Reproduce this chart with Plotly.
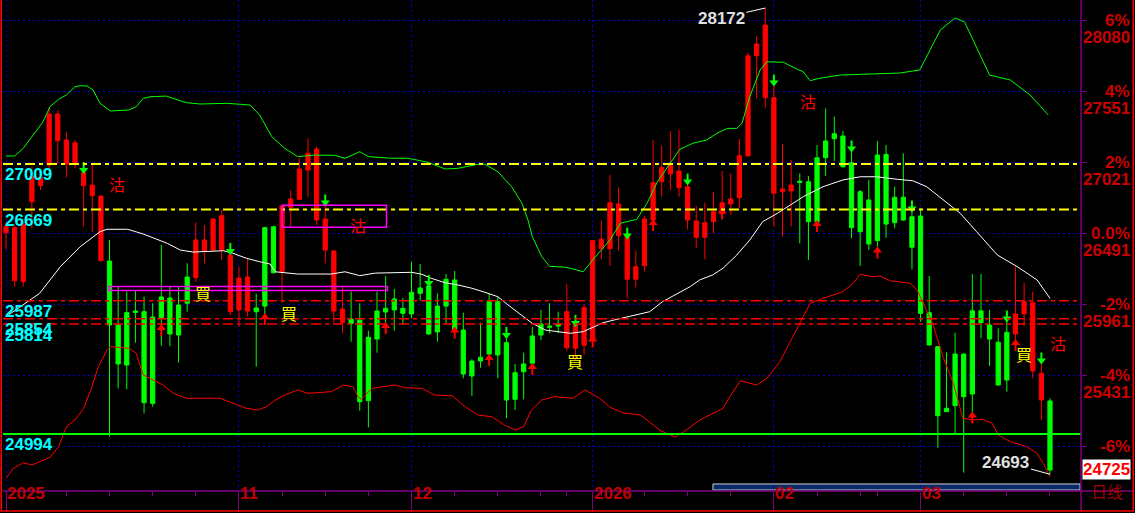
import plotly.graph_objects as go

# ---------------- data ----------------
idx = list(range(122))
open_ = [26495, 26137, 26130, 26727, 26848, 27001, 27182, 27008, 27008, 26846,
         26772, 26287, 26284, 25807, 25899, 25911, 25906, 25866, 26016, 26008,
         25956, 26165, 26160, 26359, 26366, 26366, 25906, 25919, 25911, 25934,
         26533, 26540, 26204, 26685, 26745, 26963, 26590, 26366, 25911, 25824,
         25851, 25844, 25715, 25911, 25931, 26001, 25931, 26051, 26083, 26098,
         25948, 26148, 26143, 25769, 25538, 25566, 25981, 25981, 25675, 25451,
         25516, 25725, 25814, 25799, 25812, 25637, 25633, 25655, 25700, 26376,
         26376, 26473, 26148, 26148, 26249, 26590, 26876, 26934, 26831, 26590,
         26461, 26461, 26578, 26640, 26710, 26757, 27070, 27816, 27503, 26790,
         26801, 26807, 26880, 26876, 27055, 27180, 27234, 27217, 27018, 26801,
         26740, 27075, 27080, 26760, 26760, 26615, 26620, 25899, 25645, 25185,
         25590, 25590, 25913, 25913, 25807, 25678, 25752, 25740, 25889, 25464,
         25247, 25240]
high = [26575, 26553, 26570, 26986, 26963, 27433, 27411, 27249, 27187, 26963,
        27001, 26775, 26441, 26093, 26056, 26068, 26019, 25969, 26404, 26093,
        26093, 26267, 26570, 26553, 26605, 26665, 26404, 26242, 26304, 26041,
        26540, 26548, 26700, 26814, 27051, 27200, 27137, 26702, 26365, 26093,
        26056, 25969, 25764, 26055, 26172, 26075, 26010, 26279, 26263, 26167,
        26043, 26187, 26210, 25899, 25551, 25824, 26043, 26018, 25769, 25516,
        25600, 25794, 25919, 25969, 25906, 26111, 25830, 25963, 26440, 26585,
        26926, 26834, 26516, 26361, 26620, 27187, 27145, 27254, 27262, 26889,
        26695, 26719, 26801, 26956, 26939, 27195, 27839, 27963, 28172, 27598,
        27157, 27038, 26938, 26918, 27150, 27424, 27361, 27254, 27175, 26814,
        26889, 27180, 27150, 26839, 27088, 26715, 26678, 26172, 25650, 25603,
        25749, 25595, 26187, 26187, 25919, 25782, 25899, 26242, 26122, 26056,
        25533, 25260]
low = [26372, 26093, 26093, 26531, 26814, 26978, 27008, 26909, 26976, 26540,
       26503, 26280, 24973, 25334, 25327, 25675, 25148, 25197, 25652, 25650,
       25525, 25906, 26130, 26267, 26360, 26292, 25881, 25794, 25869, 25496,
       25881, 26190, 25973, 26536, 26740, 26764, 26553, 26267, 25824, 25745,
       25682, 25167, 25043, 25600, 25749, 25764, 25807, 25857, 25988, 25732,
       25682, 25819, 25745, 25409, 25277, 25488, 25540, 25409, 25111, 25172,
       25252, 25515, 25695, 25745, 25745, 25615, 25545, 25583, 25657, 26297,
       26247, 26361, 26006, 26088, 26205, 26516, 26764, 26814, 26764, 26521,
       26379, 26297, 26491, 26603, 26628, 26678, 27060, 27498, 27424, 26540,
       26466, 26540, 26416, 26292, 26516, 26919, 27031, 26981, 26454, 26247,
       26366, 26391, 26458, 26528, 26585, 26222, 25831, 25650, 24891, 25158,
       24999, 24705, 25111, 25708, 25501, 25355, 25309, 25633, 25799, 25409,
       25098, 24693]
close = [26540, 26533, 26558, 26913, 26907, 27381, 27381, 27187, 27167, 26943,
         26851, 26769, 25807, 25516, 25508, 25901, 25227, 25222, 25861, 25740,
         25732, 25969, 26441, 26441, 26598, 26622, 26329, 26157, 26165, 25906,
         25948, 26197, 26695, 26747, 26971, 27088, 27120, 26598, 26359, 25926,
         25819, 25234, 25242, 25702, 25904, 25919, 25894, 25889, 26043, 25740,
         25755, 25948, 25775, 25441, 25426, 25538, 25590, 25583, 25247, 25252,
         25458, 25521, 25732, 25790, 25799, 25906, 25807, 25936, 26436, 26446,
         26719, 26710, 26471, 26242, 26598, 26869, 26981, 27001, 26956, 26839,
         26583, 26570, 26652, 26719, 26747, 27070, 27816, 27904, 28045, 27503,
         26822, 26851, 26872, 26578, 26578, 27055, 27197, 26988, 26533, 26503,
         26411, 26436, 26560, 26570, 26590, 26387, 25894, 25658, 25130, 25160,
         25205, 25272, 25292, 25824, 25702, 25359, 25396, 25889, 25981, 25973,
         25446, 24725]

# middle line (white)
mid_x = [0, 3.9, 6.3, 8.6, 10.9, 11.7, 14.1, 15.9, 18.7, 20.2, 21.7, 24.0, 25.2, 26.3, 27.9,
         29.4, 30.6, 31.2, 33.8, 37.7, 39.3, 41.0, 42.8, 47.0, 48.2, 49.3, 50.9, 52.4, 54.0,
         55.5, 57.0, 58.2, 59.8, 61.0, 62.5, 63.6, 65.4, 66.9, 69.2, 70.8, 73.1, 74.6, 76.1,
         77.8, 79.3, 80.4, 81.9, 83.1, 84.7, 86.2, 87.7, 89.4, 90.9, 92.4, 94.7, 97.0, 99.0,
         100.9, 103.3, 105.1, 106.7, 108.6, 110.6, 112.5, 114.9, 117.2, 119.5, 121.0]
mid_y = [25869, 26043, 26242, 26391, 26503, 26521, 26521, 26486, 26416, 26366, 26351, 26361,
         26361, 26342, 26304, 26279, 26262, 26204, 26187, 26187, 26204, 26175, 26194, 26200,
         26185, 26155, 26122, 26105, 26081, 26051, 26018, 25956, 25881, 25819, 25769, 25762,
         25745, 25757, 25824, 25849, 25881, 25906, 25981, 26038, 26093, 26143, 26180, 26230,
         26329, 26441, 26578, 26640, 26702, 26764, 26839, 26889, 26913, 26913, 26894, 26883,
         26839, 26740, 26640, 26503, 26329, 26242, 26143, 26006]

# upper band (green)
up_x = [0, 1.0, 2.0, 3.2, 4.3, 5.1, 6.1, 7.0, 8.0, 8.6, 9.4, 10.1, 10.9, 12.1, 14.2, 15.1,
        15.9, 16.7, 18.6, 20.2, 20.9, 22.5, 25.6, 27.1, 28.3, 29.4, 30.8, 32.3, 33.8, 35.8,
        38.1, 39.3, 41.0, 42.0, 44.7, 46.6, 48.9, 50.9, 52.4, 54.7, 55.5, 57.0, 58.6, 59.8,
        60.5, 61.0, 62.1, 63.0, 65.0, 66.9, 68.0, 70.0, 71.2, 73.1, 74.3, 75.5, 77.0, 78.1,
        79.6, 81.2, 82.4, 83.6, 84.7, 85.3, 86.2, 87.4, 88.2, 90.1, 91.7, 92.4, 93.2, 94.3,
        96.7, 103.6, 105.9, 108.3, 110.0, 111.1, 114.0, 116.4, 118.7, 120.8]
up_y = [27068, 27068, 27125, 27225, 27324, 27436, 27491, 27523, 27585, 27592, 27590, 27560,
        27461, 27404, 27411, 27436, 27498, 27510, 27515, 27480, 27466, 27456, 27461, 27454,
        27448, 27374, 27212, 27125, 27063, 27075, 27073, 27051, 27100, 27063, 27051, 27051,
        27021, 26971, 26976, 27006, 27006, 26951, 26839, 26715, 26590, 26466, 26316, 26245,
        26237, 26204, 26292, 26441, 26566, 26595, 26715, 26876, 27013, 27118, 27163, 27187,
        27237, 27274, 27274, 27312, 27510, 27709, 27771, 27767, 27715, 27697, 27630, 27648,
        27672, 27687, 27710, 28009, 28098, 28068, 27672, 27635, 27523, 27374]

# lower band (red)
lo_x = [0, 0.85, 2.0, 3.0, 3.9, 5.1, 6.1, 7.0, 8.0, 9.0, 9.9, 10.7, 11.7, 12.1, 14.2, 15.1,
        15.9, 17.1, 18.2, 19.4, 20.9, 24.8, 26.3, 27.9, 29.1, 30.2, 31.2, 32.3, 33.8, 35.0,
        37.7, 39.1, 40.2, 40.8, 41.2, 42.4, 45.1, 46.2, 48.2, 49.7, 51.7, 53.2, 54.7, 56.3,
        57.8, 59.0, 60.0, 60.9, 62.1, 63.6, 65.7, 67.1, 68.8, 70.0, 71.5, 73.5, 74.3, 75.8,
        77.6, 79.0, 80.4, 83.1, 83.9, 85.1, 87.0, 88.2, 89.7, 91.2, 92.4, 93.2, 94.7, 97.0,
        98.2, 99.0, 100.5, 101.3, 102.5, 103.6, 104.8, 105.6, 106.3, 107.4, 108.6, 109.8,
        110.9, 112.1, 113.2, 114.3, 115.0, 116.4, 118.3, 119.5, 120.2, 121.0]
lo_y = [24663, 24737, 24779, 24762, 24787, 24820, 24899, 25048, 25098, 25185, 25334, 25496,
        25620, 25645, 25633, 25596, 25434, 25396, 25359, 25297, 25260, 25260, 25222, 25185,
        25172, 25197, 25247, 25284, 25322, 25297, 25309, 25359, 25346, 25272, 25252, 25334,
        25359, 25339, 25334, 25284, 25279, 25197, 25135, 25122, 25060, 25023, 25048, 25172,
        25247, 25272, 25260, 25322, 25260, 25193, 25152, 25135, 25098, 25020, 24970, 25030,
        25098, 25185, 25272, 25391, 25359, 25409, 25533, 25719, 25869, 25969, 26006, 26055,
        26118, 26185, 26167, 26172, 26137, 26130, 26118, 26068, 25969, 25819, 25570, 25372,
        25111, 25098, 25103, 25073, 24986, 24936, 24899, 24849, 24775, 24675]

# key price levels
yellow_levels = [27009, 26669]
red_levels = [25987, 25854, 25814]
green_levels = [24994]

# signals
sell_idx = [9, 26, 37, 49, 58, 66, 72, 79, 89, 98, 105, 116, 120]
sell_px = [26978, 26374, 26736, 26135, 25747, 25837, 26489, 26892, 27631, 27139, 26691, 25870, 25557]
buy_idx = [18, 30, 44, 52, 56, 61, 68, 75, 83, 94, 101, 112, 117]
buy_px = [25769, 25851, 25784, 25751, 25546, 25479, 25684, 26553, 26639, 26545, 26348, 25117, 25658]

gu_idx = [12.9, 40.8, 93.0, 121.9]
gu_px = [26859, 26553, 27478, 25673]
mai_idx = [22.8, 32.8, 65.9, 118.0]
mai_px = [26046, 25897, 25538, 25590]

# zones (magenta boxes)
zone_x0 = [11.94, 32.0]
zone_x1 = [44.2, 44.1]
zone_y0 = [26064, 26536]
zone_y1 = [26094, 26700]

# axis
base_price = 26491
pct_levels = [6, 4, 2, 0, -2, -4, -6]
pct_text = ["6%", "4%", "2%", "0.0%", "-2%", "-4%", "-6%"]
major_ticks = [0, 27, 47, 68, 89, 106]
major_text = ["2025", "11", "12", "2026", "02", "03"]
minor_ticks = [7, 12, 17, 22, 32, 37, 42, 52, 57, 62, 65, 69, 74, 79, 84, 94, 99, 101, 111, 116, 121]

# ---------------- figure ----------------
PX = 7.462  # price units per pixel
RED = '#ff0000'
GREEN = '#00ff00'
PURPLE = '#800080'
GRID = '#0000c8'
fig = go.Figure()

fig.add_trace(go.Candlestick(
    x=idx, open=open_, high=high, low=low, close=close,
    increasing=dict(line=dict(color=RED, width=1), fillcolor=RED),
    decreasing=dict(line=dict(color=GREEN, width=1), fillcolor=GREEN),
    whiskerwidth=0, hoverinfo='skip', showlegend=False))

fig.add_trace(go.Scatter(x=up_x, y=up_y, mode='lines', line=dict(color=GREEN, width=1), hoverinfo='skip'))
fig.add_trace(go.Scatter(x=mid_x, y=mid_y, mode='lines', line=dict(color='#ffffff', width=1), hoverinfo='skip'))
fig.add_trace(go.Scatter(x=lo_x, y=lo_y, mode='lines', line=dict(color=RED, width=1), hoverinfo='skip'))

# sell arrows (green, down)
fig.add_trace(go.Scatter(x=sell_idx, y=[p - 2 * PX for p in sell_px], mode='markers',
                         marker=dict(symbol='triangle-down', size=8, color=GREEN, line=dict(width=0)),
                         hoverinfo='skip'))
fig.add_trace(go.Scatter(x=sell_idx, y=[p + 2.5 * PX for p in sell_px], mode='markers',
                         marker=dict(symbol='line-ns', size=5, line=dict(width=2, color=GREEN)),
                         hoverinfo='skip'))
# buy arrows (red, up)
fig.add_trace(go.Scatter(x=buy_idx, y=[p + 2 * PX for p in buy_px], mode='markers',
                         marker=dict(symbol='triangle-up', size=8, color=RED, line=dict(width=0)),
                         hoverinfo='skip'))
fig.add_trace(go.Scatter(x=buy_idx, y=[p - 2.5 * PX for p in buy_px], mode='markers',
                         marker=dict(symbol='line-ns', size=5, line=dict(width=2, color=RED)),
                         hoverinfo='skip'))

shapes = []
for lv in yellow_levels:
    shapes.append(dict(type='line', xref='paper', x0=0, x1=1, yref='y', y0=lv, y1=lv,
                       line=dict(color='#ffff00', width=2, dash='10px,4px,4px,4px'), layer='above'))
for lv in red_levels:
    shapes.append(dict(type='line', xref='paper', x0=0, x1=1, yref='y', y0=lv, y1=lv,
                       line=dict(color='#ff0000', width=1.5, dash='10px,4px,4px,4px'), layer='above'))
for lv in green_levels:
    shapes.append(dict(type='line', xref='paper', x0=0, x1=1, yref='y', y0=lv, y1=lv,
                       line=dict(color=GREEN, width=2), layer='above'))
for a, b, c, d in zip(zone_x0, zone_x1, zone_y0, zone_y1):
    shapes.append(dict(type='rect', xref='x', yref='y', x0=a, x1=b, y0=c, y1=d,
                       line=dict(color='#ff00ff', width=1.5), layer='above'))
# frame lines
shapes += [
    dict(type='line', xref='paper', yref='paper', x0=1.0, x1=1.0, y0=-0.042, y1=1,
         line=dict(color=PURPLE, width=1.5)),
    dict(type='line', xref='paper', yref='paper', x0=0, x1=1.048, y0=0, y1=0,
         line=dict(color=PURPLE, width=1.5)),
    dict(type='line', xref='paper', yref='paper', x0=-0.0016, x1=-0.0016, y0=-0.042, y1=1,
         line=dict(color='#ff0000', width=1.5)),
    dict(type='line', xref='paper', yref='paper', x0=1.0485, x1=1.0485, y0=-0.042, y1=1,
         line=dict(color='#ff0000', width=1.5)),
    dict(type='line', xref='paper', yref='paper', x0=-0.002, x1=1.0485, y0=-0.0405, y1=-0.0405,
         line=dict(color='#ff0000', width=1.5)),
    dict(type='rect', xref='paper', yref='paper', x0=0.6586, x1=0.9991, y0=0.002, y1=0.0143,
         line=dict(color='#d0d0d0', width=1), fillcolor='#0a2a6a', layer='below'),
]

ann = []
num_font = dict(family='Liberation Sans, Arial, sans-serif', size=17, color='#00ffff')
for lv in yellow_levels + red_levels + green_levels:
    ann.append(dict(xref='paper', x=0.001, xanchor='left', yref='y', y=lv, yshift=-11,
                    text='<b>%d</b>' % lv, showarrow=False, font=num_font, borderpad=0))
for p, t in zip(pct_levels, pct_text):
    price = base_price * (1 + p / 100.0)
    ann.append(dict(xref='paper', x=1.0464, xanchor='right', yref='y', y=price,
                    text='<b>%s</b>' % t, showarrow=False, borderpad=0,
                    font=dict(family='Liberation Sans, Arial, sans-serif', size=17, color='#cc0000')))
    if p > -6:
        ann.append(dict(xref='paper', x=1.0464, xanchor='right', yref='y', y=price, yshift=-17,
                        text='<b>%d</b>' % round(price), showarrow=False, borderpad=0,
                        font=dict(family='Liberation Sans, Arial, sans-serif', size=17, color='#cc0000')))
# last close box
ann.append(dict(xref='paper', x=1.0464, xanchor='right', yref='y', y=close[-1],
                text='<b>%d</b>' % close[-1], showarrow=False, bgcolor='#ffffff', borderpad=0,
                font=dict(family='Liberation Sans, Arial, sans-serif', size=17, color='#ff0000')))
# date labels
for t, lab in zip(major_ticks, major_text):
    ann.append(dict(xref='x', x=t, xanchor='left', xshift=0, yref='paper', y=-0.0265,
                    text='<b>%s</b>' % lab, showarrow=False, borderpad=0,
                    font=dict(family='Liberation Sans, Arial, sans-serif', size=17, color='#c00000')))
ann.append(dict(xref='paper', x=1.024, xanchor='center', yref='paper', y=-0.027,
                text='日线', showarrow=False, borderpad=0,
                font=dict(family='Noto Sans CJK SC', size=16, color='#a00000')))
# high / low markers
imax = high.index(max(high))
imin = low.index(min(low))
ann.append(dict(x=imax, y=high[imax], ax=-44, ay=10, text='<b>%d</b>' % high[imax], showarrow=True,
                arrowhead=0, arrowwidth=1, arrowcolor='#ffffff', standoff=0,
                font=dict(family='Liberation Sans, Arial, sans-serif', size=17, color='#e0e0e0')))
ann.append(dict(x=imin, y=low[imin], ax=-44, ay=-12, text='<b>%d</b>' % low[imin], showarrow=True,
                arrowhead=0, arrowwidth=1, arrowcolor='#ffffff', standoff=0,
                font=dict(family='Liberation Sans, Arial, sans-serif', size=17, color='#e0e0e0')))
# signal words
for x, y in zip(gu_idx, gu_px):
    ann.append(dict(x=x, y=y, text='沽', showarrow=False,
                    font=dict(family='Noto Sans CJK TC', size=16, color='#ff0000')))
for x, y in zip(mai_idx, mai_px):
    ann.append(dict(x=x, y=y, text='買', showarrow=False,
                    font=dict(family='Noto Sans CJK TC', size=16, color='#ffff00')))

fig.update_layout(
    width=1135, height=513, margin=dict(l=3, r=54, t=0, b=22),
    paper_bgcolor='#000000', plot_bgcolor='#000000', showlegend=False,
    shapes=shapes, annotations=ann,
    xaxis=dict(range=[-0.348, 124.594], rangeslider=dict(visible=False), tickvals=major_ticks,
               showticklabels=False, ticks='outside', ticklen=20, tickcolor=PURPLE, tickwidth=1,
               showgrid=True, gridcolor=GRID, griddash='2px,3px', gridwidth=1, zeroline=False,
               showline=False, fixedrange=True,
               minor=dict(tickvals=minor_ticks, ticks='outside', ticklen=4, tickcolor=PURPLE,
                          showgrid=False)),
    yaxis=dict(range=[24568, 28232], side='right',
               tickvals=[base_price * (1 + p / 100.0) for p in pct_levels],
               showticklabels=False, ticks='outside', ticklen=5, tickcolor=PURPLE,
               showgrid=True, gridcolor=GRID, griddash='2px,3px', gridwidth=1,
               zeroline=False, showline=False, fixedrange=True),
)

fig.write_html("out.html", config={'displayModeBar': False},
               post_script="document.body.style.margin='0';")
